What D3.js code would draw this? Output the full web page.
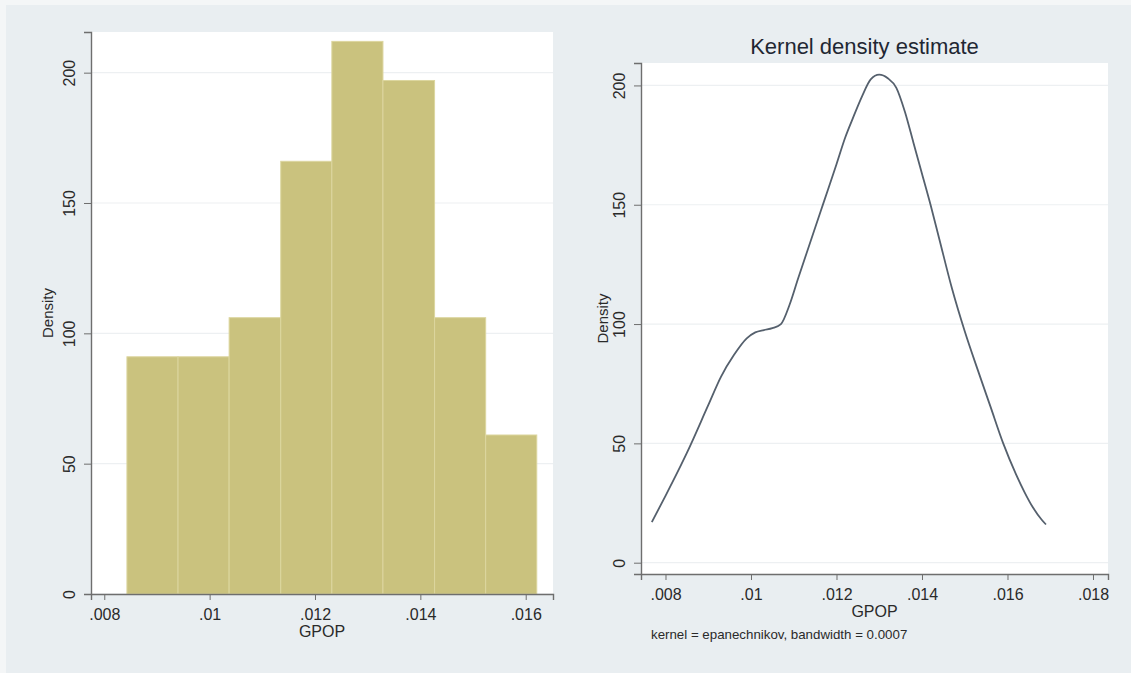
<!DOCTYPE html>
<html>
<head>
<meta charset="utf-8">
<script src="https://cdn.jsdelivr.net/npm/d3@7"></script>
<style>
  body { margin: 0; background: #f4f6f7; }
  svg { display: block; font-family: "Liberation Sans", Arial, sans-serif; }
</style>
</head>
<body>
<div id="chart"></div>
<script>
// histogram bins (GPOP) and their density
const binEdges = [0.00843, 0.00940, 0.01037, 0.01135, 0.01232, 0.01329, 0.01427, 0.01524, 0.01621];
const binDensity = [91, 91, 106, 166, 212, 197, 106, 61];

// kernel density curve
const kdeX = [0.00768, 0.0080, 0.0085, 0.0090, 0.0093, 0.0096, 0.0099, 0.0101, 0.0103, 0.0105,
              0.0107, 0.0109, 0.0111, 0.0114, 0.0117, 0.0120, 0.0122, 0.0124, 0.0126, 0.0128,
              0.0130, 0.0132, 0.0134, 0.0136, 0.0138, 0.0140, 0.0142, 0.0144, 0.0147, 0.0150,
              0.0153, 0.0156, 0.0159, 0.0162, 0.0164, 0.0166, 0.0168, 0.0169];
const kdeY = [17, 28, 46, 66, 78, 87, 94, 96.5, 97.5, 98.3,
              100, 108, 119, 135, 151, 167, 178, 187, 195.5, 202.5,
              204.5, 203, 199, 189, 176, 163, 150, 136, 115, 97,
              81, 65.5, 50, 37, 29.5, 23, 18, 16];

const histXTicks = [0.008, 0.010, 0.012, 0.014, 0.016];
const kdeXTicks = [0.008, 0.010, 0.012, 0.014, 0.016, 0.018];
const densityTicks = [0, 50, 100, 150, 200];

const W = 1131, H = 673;
const fmtX = d => String(+d.toFixed(3)).replace(/^0/, "");

const svg = d3.select("#chart")
    .append("svg")
    .attr("width", W)
    .attr("height", H);

// graph region
svg.append("rect")
    .attr("x", 6).attr("y", 5)
    .attr("width", W - 6).attr("height", H - 5)
    .attr("fill", "#e9eef1");

function panel(box, xDomain, yDomain, xTicks) {
    const g = svg.append("g")
        .attr("transform", `translate(${box.left},${box.top})`);
    const w = box.right - box.left;
    const h = box.bottom - box.top;

    g.append("rect")
        .attr("width", w).attr("height", h)
        .attr("fill", "#ffffff");

    const x = d3.scaleLinear().domain(xDomain).range([0, w]);
    const y = d3.scaleLinear().domain(yDomain).range([h, 0]);

    // grid
    g.append("g")
        .selectAll("line")
        .data(densityTicks)
        .join("line")
        .attr("x1", 0).attr("x2", w)
        .attr("y1", d => y(d)).attr("y2", d => y(d))
        .attr("stroke", "#edf0f2")
        .attr("stroke-width", 1.2);

    return { g, x, y, w, h, xTicks };
}

function drawAxes(p, densityX) {
    const { g, x, y, w, h } = p;

    const xAxis = g.append("g")
        .attr("transform", `translate(0,${h})`)
        .call(d3.axisBottom(x).tickValues(p.xTicks).tickFormat(fmtX).tickSize(6).tickPadding(9));
    xAxis.select(".domain").attr("stroke", "#6e6e6e").attr("stroke-width", 1.4);
    xAxis.selectAll(".tick line").attr("stroke", "#6e6e6e");
    xAxis.selectAll(".tick text")
        .attr("fill", "#2a2a2a")
        .style("font-size", "16px");

    const yAxis = g.append("g")
        .call(d3.axisLeft(y).tickValues(densityTicks).tickSize(7));
    yAxis.select(".domain").attr("stroke", "#6e6e6e").attr("stroke-width", 1.4);
    yAxis.selectAll(".tick line").attr("stroke", "#6e6e6e");
    yAxis.selectAll(".tick text")
        .attr("transform", "rotate(-90)")
        .attr("x", 0)
        .attr("y", -16)
        .attr("dy", 0)
        .attr("text-anchor", "middle")
        .attr("fill", "#2a2a2a")
        .style("font-size", "16px");

    g.append("text")
        .attr("transform", `translate(${densityX},${h / 2}) rotate(-90)`)
        .attr("text-anchor", "middle")
        .attr("fill", "#2a2a2a")
        .style("font-size", "15px")
        .text("Density");

    g.append("text")
        .attr("x", w / 2)
        .attr("y", h + 43)
        .attr("text-anchor", "middle")
        .attr("fill", "#2a2a2a")
        .style("font-size", "16px")
        .text("GPOP");
}

// left: histogram
const left = panel({ left: 91, top: 32, right: 553, bottom: 594 },
    [0.007748, 0.016518], [0, 215.6], histXTicks);

left.g.append("g")
    .selectAll("rect")
    .data(binDensity)
    .join("rect")
    .attr("x", (d, i) => left.x(binEdges[i]))
    .attr("width", (d, i) => left.x(binEdges[i + 1]) - left.x(binEdges[i]))
    .attr("y", d => left.y(d))
    .attr("height", d => left.h - left.y(d))
    .attr("fill", "#cac27e")
    .attr("stroke", "#dcd69f")
    .attr("stroke-width", 1);

drawAxes(left, -38);

// right: kernel density
const right = panel({ left: 641, top: 63, right: 1108, bottom: 574 },
    [0.007427, 0.018351], [-4.74, 209.4], kdeXTicks);

const kde = kdeX.map((v, i) => [v, kdeY[i]]);
right.g.append("path")
    .datum(kde)
    .attr("fill", "none")
    .attr("stroke", "#55606d")
    .attr("stroke-width", 1.8)
    .attr("d", d3.line()
        .x(d => right.x(d[0]))
        .y(d => right.y(d[1]))
        .curve(d3.curveMonotoneX));

drawAxes(right, -33);

// title centred on the sub-graph, a little left of the plot centre
right.g.append("text")
    .attr("x", right.w / 2 - 10)
    .attr("y", -9)
    .attr("text-anchor", "middle")
    .attr("fill", "#1f2733")
    .style("font-size", "22px")
    .text("Kernel density estimate");

right.g.append("text")
    .attr("x", 10)
    .attr("y", right.h + 65)
    .attr("fill", "#2a2a2a")
    .style("font-size", "13.3px")
    .text("kernel = epanechnikov, bandwidth = 0.0007");
</script>
</body>
</html>
